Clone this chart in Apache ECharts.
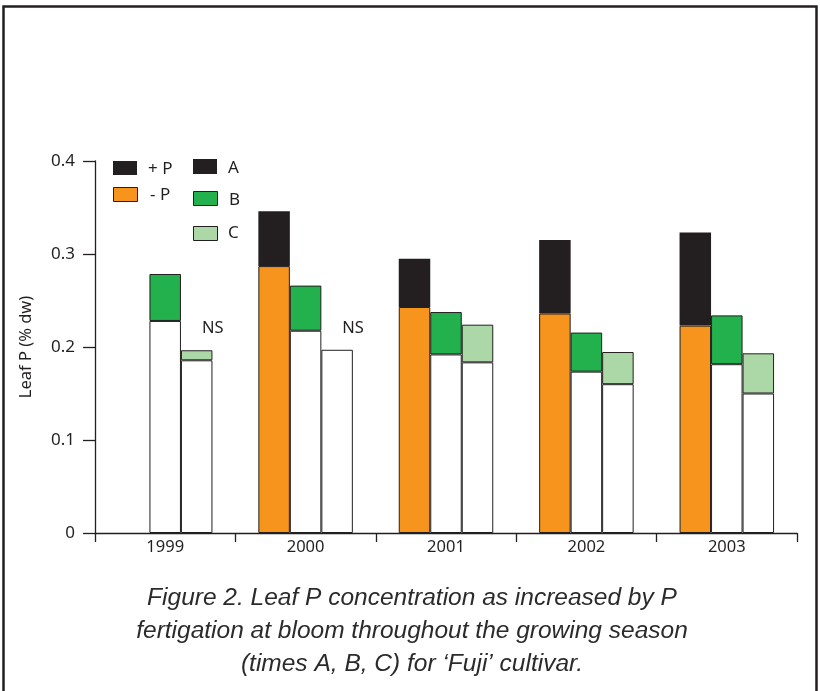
<!DOCTYPE html>
<html>
<head>
<meta charset="utf-8">
<script src="https://cdn.jsdelivr.net/npm/echarts@6/dist/echarts.min.js"></script>
<style>
html,body{margin:0;padding:0;background:#fff;}
#chart{width:820px;height:691px;}
</style>
</head>
<body>
<div id="chart"></div>
<script>
// Data
var years = ['1999', '2000', '2001', '2002', '2003'];
// -P (bottom) values per time
var minusP_A = [null, 0.287, 0.243, 0.236, 0.223];
var minusP_B = [0.228, 0.2175, 0.192, 0.1735, 0.1815];
var minusP_C = [0.1857, 0.197, 0.1835, 0.160, 0.150];
// +P (total) values per time
var plusP_A = [null, 0.346, 0.295, 0.315, 0.323];
var plusP_B = [0.2785, 0.266, 0.2376, 0.2155, 0.234];
var plusP_C = [0.1965, null, 0.224, 0.1946, 0.1932];
var yTicks = [0, 0.1, 0.2, 0.3, 0.4];
var nsYears = ['1999', '2000'];
var captionLines = [
  'Figure 2. Leaf P concentration as increased by P',
  'fertigation at bloom throughout the growing season',
  '(times A, B, C) for \u2018Fuji\u2019 cultivar.'
];

var COL_BLACK = '#231f20', COL_ORANGE = '#f7941d', COL_GREEN = '#22b14c', COL_LIGHT = '#acd8a7', COL_WHITE = '#ffffff';
var FONT = 'Noto Sans';

function diff(top, bot) {
  return top.map(function (t, i) {
    if (t == null || bot[i] == null) return '-';
    return +(t - bot[i]).toFixed(4);
  });
}
function clean(a) { return a.map(function (v) { return v == null ? '-' : v; }); }

var chart = echarts.init(document.getElementById('chart'), null, {renderer: 'canvas'});

var barStyle = function (c) { return {color: c, borderColor: COL_BLACK, borderWidth: 1}; };
var BW = 31.5;

function nsLabelData(vals, forYears) {
  return vals.map(function (v, i) {
    if (forYears.indexOf(years[i]) >= 0) {
      return {value: v, label: {show: true, position: 'top', formatter: 'NS', offset: [16, -8],
        color: COL_BLACK, fontFamily: FONT, fontSize: 16.5}};
    }
    return v;
  });
}

var cTop = diff(plusP_C, minusP_C);
var cBot = clean(minusP_C);

var option = {
  animation: false,
  backgroundColor: '#fff',
  grid: {left: 95, right: 23, top: 161, bottom: 158},
  xAxis: {
    type: 'category', data: years,
    axisLine: {lineStyle: {color: COL_BLACK, width: 1.3}},
    axisTick: {show: true, length: 9, lineStyle: {color: COL_BLACK, width: 1.3}},
    axisLabel: {color: COL_BLACK, fontFamily: FONT, fontSize: 16.5, margin: 6}
  },
  yAxis: {
    type: 'value', min: 0, max: 0.4, interval: 0.1,
    name: 'Leaf P (% dw)', nameLocation: 'middle', nameGap: 60, nameRotate: 90,
    nameTextStyle: {color: COL_BLACK, fontFamily: FONT, fontSize: 16.5},
    axisLine: {show: true, lineStyle: {color: COL_BLACK, width: 1.3}},
    axisTick: {show: true, length: 12, lineStyle: {color: COL_BLACK, width: 1.3}},
    axisLabel: {color: COL_BLACK, fontFamily: FONT, fontSize: 17, margin: 20,
      formatter: function (v) { return String(+v.toFixed(1)); }},
    splitLine: {show: false}
  },
  series: [
    {name: 'A-', type: 'bar', stack: 'A', barWidth: BW, barGap: '0%', data: clean(minusP_A), itemStyle: barStyle(COL_ORANGE)},
    {name: 'A+', type: 'bar', stack: 'A', barWidth: BW, barGap: '0%', data: diff(plusP_A, minusP_A), itemStyle: {color: COL_BLACK}},
    {name: 'B-', type: 'bar', stack: 'B', barWidth: BW, barGap: '0%', data: clean(minusP_B), itemStyle: barStyle(COL_WHITE)},
    {name: 'B+', type: 'bar', stack: 'B', barWidth: BW, barGap: '0%', data: diff(plusP_B, minusP_B), itemStyle: barStyle(COL_GREEN)},
    {name: 'C-', type: 'bar', stack: 'C', barWidth: BW, barGap: '0%', data: nsLabelData(cBot, ['2000']), itemStyle: barStyle(COL_WHITE)},
    {name: 'C+', type: 'bar', stack: 'C', barWidth: BW, barGap: '0%', data: nsLabelData(cTop, ['1999']), itemStyle: barStyle(COL_LIGHT)}
  ],
  graphic: [
    {type: 'rect', shape: {x: 3.5, y: 6.5, width: 813, height: 700}, style: {fill: null, stroke: COL_BLACK, lineWidth: 2.5}, silent: true},
    // legend: +P / -P
    {type: 'rect', shape: {x: 113, y: 161, width: 24, height: 14}, style: {fill: COL_BLACK}},
    {type: 'text', style: {x: 148, y: 169, text: '+ P', fill: COL_BLACK, font: '17px "Noto Sans"', verticalAlign: 'middle'}},
    {type: 'rect', shape: {x: 113.5, y: 187.5, width: 24, height: 14}, style: {fill: COL_ORANGE, stroke: COL_BLACK, lineWidth: 1}},
    {type: 'text', style: {x: 150, y: 195, text: '- P', fill: COL_BLACK, font: '17px "Noto Sans"', verticalAlign: 'middle'}},
    // legend: A/B/C
    {type: 'rect', shape: {x: 193, y: 159, width: 24, height: 15}, style: {fill: COL_BLACK}},
    {type: 'text', style: {x: 228, y: 168, text: 'A', fill: COL_BLACK, font: '17px "Noto Sans"', verticalAlign: 'middle'}},
    {type: 'rect', shape: {x: 193.5, y: 191.5, width: 24, height: 14}, style: {fill: COL_GREEN, stroke: COL_BLACK, lineWidth: 1}},
    {type: 'text', style: {x: 229, y: 200, text: 'B', fill: COL_BLACK, font: '17px "Noto Sans"', verticalAlign: 'middle'}},
    {type: 'rect', shape: {x: 193.5, y: 226.5, width: 24, height: 14}, style: {fill: COL_LIGHT, stroke: COL_BLACK, lineWidth: 1}},
    {type: 'text', style: {x: 228, y: 233, text: 'C', fill: COL_BLACK, font: '17px "Noto Sans"', verticalAlign: 'middle'}}
  ].concat(captionLines.map(function (t, i) {
    return {type: 'text', style: {x: 412, y: 598 + i * 33, text: t, fill: '#2b2b2b',
      font: 'italic 24.5px "Liberation Sans"', textAlign: 'center', verticalAlign: 'middle'}};
  }))
};
chart.setOption(option);
</script>
</body>
</html>
